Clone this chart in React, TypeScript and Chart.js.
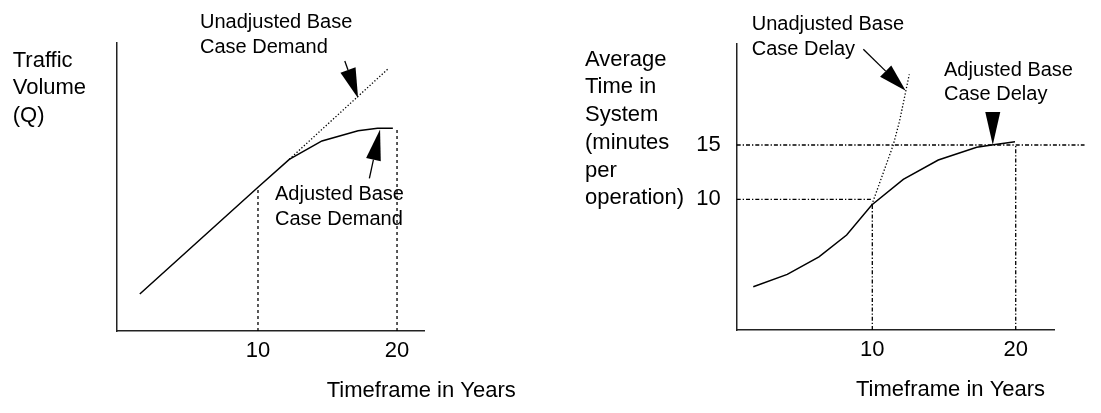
import React, { useEffect, useRef } from 'react';
import { Chart, registerables } from 'chart.js';

Chart.register(...registerables);

const FONT = '"Liberation Sans", Arial, Helvetica, sans-serif';

// ---------- Left panel: demand ----------
const demandYears = [1.5, 10, 12.25, 14.6, 17.2, 18.6, 19.7];
const adjustedDemand = [12.85, 49.9, 59.6, 66.0, 69.5, 70.4, 70.4];
const unadjustedDemandYears = [12.25, 19.35];
const unadjustedDemand = [59.6, 91];
const demandXTicks = [10, 20];
const demandMarkerYears = [10, 20];
const demandMarkerLevels = [49.9, 70.4];

// ---------- Right panel: delay ----------
const delayYears = [1.7, 4.07, 6.28, 8.21, 9.96, 12.16, 14.6, 17.28, 18.33, 19.95];
const adjustedDelay = [1.95, 3.09, 4.71, 6.71, 9.48, 11.84, 13.62, 14.79, 15.0, 15.3];
const unadjustedDelayYears = [9.96, 11.46, 11.9, 12.35, 12.58];
const unadjustedDelay = [9.48, 15.0, 17.2, 20.06, 21.5];
const delayXTicks = [10, 20];
const delayYTicks = [10, 15];
const delayMarkerYears = [10, 20];
const delayMarkerYearLevels = [9.48, 15];
const delayMarkerLevels = [10, 15];
const delayMarkerLevelEnds = [9.96, 24.8];

const zip = (xs: number[], ys: number[]) => xs.map((x, i) => ({ x, y: ys[i] }));

type Label = { lines: string[]; x: number; y: number; lh?: number; size: number };
type Arrow = { tip: { x: number; y: number }; tail: [number, number]; head: number; half: number };

function drawArrow(ctx: CanvasRenderingContext2D, tx: number, ty: number, fx: number, fy: number, headLen: number, halfW: number) {
  const dx = tx - fx, dy = ty - fy;
  const len = Math.hypot(dx, dy);
  const ux = dx / len, uy = dy / len;
  const bx = tx - ux * headLen, by = ty - uy * headLen;
  ctx.strokeStyle = '#000';
  ctx.fillStyle = '#000';
  ctx.setLineDash([]);
  if (len > headLen) {
    ctx.beginPath();
    ctx.moveTo(fx, fy);
    ctx.lineTo(bx, by);
    ctx.lineWidth = 1.3;
    ctx.stroke();
  }
  ctx.beginPath();
  ctx.moveTo(tx, ty);
  ctx.lineTo(bx - uy * halfW, by + ux * halfW);
  ctx.lineTo(bx + uy * halfW, by - ux * halfW);
  ctx.closePath();
  ctx.fill();
}

function makeDecor(labels: Label[], arrows: Arrow[]) {
  return {
    id: 'decor',
    afterDraw(chart: any) {
      const ctx: CanvasRenderingContext2D = chart.ctx;
      const xs = chart.scales.x, ys = chart.scales.y;
      ctx.save();
      ctx.fillStyle = '#000';
      ctx.textAlign = 'left';
      ctx.textBaseline = 'alphabetic';
      labels.forEach((l) => {
        ctx.font = `${l.size}px ${FONT}`;
        l.lines.forEach((t, i) => ctx.fillText(t, l.x, l.y + i * (l.lh || 0)));
      });
      arrows.forEach((a) => {
        const tx = xs.getPixelForValue(a.tip.x);
        const ty = ys.getPixelForValue(a.tip.y);
        drawArrow(ctx, tx, ty, tx + a.tail[0], ty + a.tail[1], a.head, a.half);
      });
      ctx.restore();
    },
  };
}

const solid = (data: any[]) => ({ data, borderColor: '#000', borderWidth: 1.5, pointRadius: 0, tension: 0, fill: false });
const dotted = (data: any[]) => ({ data, borderColor: '#000', borderWidth: 1.3, borderDash: [1.3, 2], pointRadius: 0, tension: 0, fill: false });
const dashed = (data: any[], dash: number[]) => ({ data, borderColor: '#000', borderWidth: 1.3, borderDash: dash, pointRadius: 0, tension: 0, fill: false, clip: false });

function axisCommon(extra: any) {
  return {
    type: 'linear',
    grid: { display: false, drawTicks: false },
    border: { display: true, color: '#222', width: 1.5 },
    ...extra,
  };
}

function useChart(ref: React.RefObject<HTMLCanvasElement>, build: () => any) {
  useEffect(() => {
    if (!ref.current) return;
    const chart = new Chart(ref.current, build());
    return () => chart.destroy();
  }, []);
}

export default function App() {
  const leftRef = useRef<HTMLCanvasElement>(null);
  const rightRef = useRef<HTMLCanvasElement>(null);

  useChart(leftRef, () => {
    const yMin = 0;
    return {
      type: 'line',
      data: {
        datasets: [
          solid(zip(demandYears, adjustedDemand)),
          dotted(zip(unadjustedDemandYears, unadjustedDemand)),
          ...demandMarkerYears.map((yr, i) => dashed([{ x: yr, y: yMin }, { x: yr, y: demandMarkerLevels[i] }], [3, 3])),
        ],
      },
      options: {
        responsive: false,
        animation: false,
        events: [],
        layout: { padding: { left: 77, top: 43, right: 126, bottom: 32 } },
        plugins: { legend: { display: false }, tooltip: { enabled: false } },
        scales: {
          x: axisCommon({
            min: -0.14,
            max: 21.94,
            afterFit: (s: any) => { s.height = 50; },
            afterBuildTicks: (s: any) => { s.ticks = demandXTicks.map((v) => ({ value: v })); },
            ticks: { color: '#000', padding: 7, font: { family: FONT, size: 22 } },
          }),
          y: axisCommon({
            min: yMin,
            max: 100,
            afterFit: (s: any) => { s.width = 40; },
            ticks: { display: false },
          }),
        },
      },
      plugins: [
        makeDecor(
          [
            { lines: ['Traffic', 'Volume', '(Q)'], x: 12.7, y: 66.7, lh: 27.7, size: 22 },
            { lines: ['Timeframe in Years'], x: 326.7, y: 397, size: 22 },
            { lines: ['Unadjusted Base', 'Case Demand'], x: 200, y: 28.3, lh: 25, size: 20 },
            { lines: ['Adjusted Base', 'Case Demand'], x: 275, y: 200, lh: 24.5, size: 20 },
          ],
          [
            { tip: { x: 17.2, y: 80.8 }, tail: [-13.3, -37.3], head: 30, half: 8 },
            { tip: { x: 18.78, y: 70.0 }, tail: [-10.7, 49], head: 31, half: 7.5 },
          ]
        ),
      ],
    };
  });

  useChart(rightRef, () => {
    const xMin = 0.544;
    const yMin = -2.03;
    return {
      type: 'line',
      data: {
        datasets: [
          solid(zip(delayYears, adjustedDelay)),
          dotted(zip(unadjustedDelayYears, unadjustedDelay)),
          ...delayMarkerYears.map((yr, i) => dashed([{ x: yr, y: yMin }, { x: yr, y: delayMarkerYearLevels[i] }], [4, 2, 1.3, 2])),
          ...delayMarkerLevels.map((lv, i) => dashed([{ x: xMin, y: lv }, { x: delayMarkerLevelEnds[i], y: lv }], [4, 2, 1.3, 2])),
        ],
      },
      options: {
        responsive: false,
        animation: false,
        events: [],
        layout: { padding: { left: 136.7, top: 44, right: 47, bottom: 33 } },
        plugins: { legend: { display: false }, tooltip: { enabled: false } },
        scales: {
          x: axisCommon({
            min: xMin,
            max: 22.67,
            afterFit: (s: any) => { s.height = 50; },
            afterBuildTicks: (s: any) => { s.ticks = delayXTicks.map((v) => ({ value: v })); },
            ticks: { color: '#000', padding: 7, font: { family: FONT, size: 22 } },
          }),
          y: axisCommon({
            min: yMin,
            max: 24.3,
            afterFit: (s: any) => { s.width = 50; },
            afterBuildTicks: (s: any) => { s.ticks = delayYTicks.map((v) => ({ value: v })); },
            ticks: { color: '#000', padding: 16, font: { family: FONT, size: 22 } },
          }),
        },
      },
      plugins: [
        makeDecor(
          [
            { lines: ['Average', 'Time in', 'System', '(minutes', 'per', 'operation)'], x: 35, y: 65.7, lh: 27.7, size: 22 },
            { lines: ['Timeframe in Years'], x: 306, y: 396, size: 22 },
            { lines: ['Unadjusted Base', 'Case Delay'], x: 201.7, y: 30, lh: 25, size: 20 },
            { lines: ['Adjusted Base', 'Case Delay'], x: 394, y: 75.5, lh: 24.5, size: 20 },
          ],
          [
            { tip: { x: 12.33, y: 20.0 }, tail: [-42.4, -41.4], head: 28, half: 8 },
            { tip: { x: 18.4, y: 15 }, tail: [0, -33], head: 33, half: 7.5 },
          ]
        ),
      ],
    };
  });

  return (
    <div style={{ position: 'absolute', left: 0, top: 0, width: 1101, height: 413, background: '#fff' }}>
      <canvas ref={leftRef} width={550} height={413} style={{ position: 'absolute', left: 0, top: 0 }} />
      <canvas ref={rightRef} width={551} height={413} style={{ position: 'absolute', left: 550, top: 0 }} />
    </div>
  );
}
